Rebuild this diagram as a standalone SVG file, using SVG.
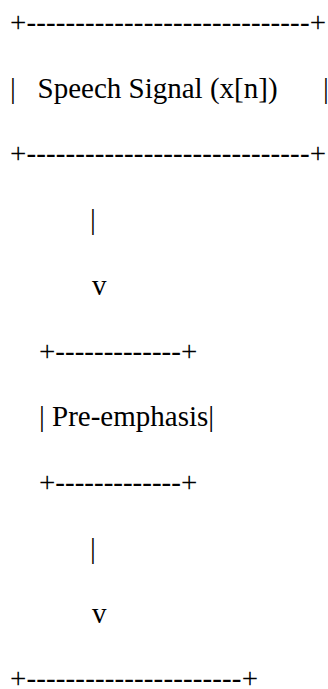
<svg xmlns="http://www.w3.org/2000/svg" width="328" height="689" viewBox="0 0 328 689">
<style>
text{font-family:"Liberation Serif","Times New Roman",serif;font-size:29px;fill:#000;white-space:pre}
</style>
<rect width="328" height="689" fill="#fff"/>
<g id="speech-signal">
<text x="10" y="32" textLength="316" lengthAdjust="spacing">+-----------------------------+</text>
<text x="10" y="97.7" xml:space="preserve">|   Speech Signal (x[n])<tspan x="323">|</tspan></text>
<text x="10" y="163.4" textLength="316" lengthAdjust="spacing">+-----------------------------+</text>
</g>
<g id="connectors">
<text x="90" y="229.1">|</text>
<text x="92" y="294.8">v</text>
<text x="90" y="557.6">|</text>
<text x="92" y="623.3">v</text>
</g>
<g id="pre-emphasis">
<text x="39" y="360.5">+-------------+</text>
<text x="39" y="426.2">| Pre-emphasis|</text>
<text x="39" y="491.9">+-------------+</text>
</g>
<g id="next-stage">
<text x="10" y="688" textLength="248" lengthAdjust="spacing">+----------------------+</text>
</g>
</svg>
